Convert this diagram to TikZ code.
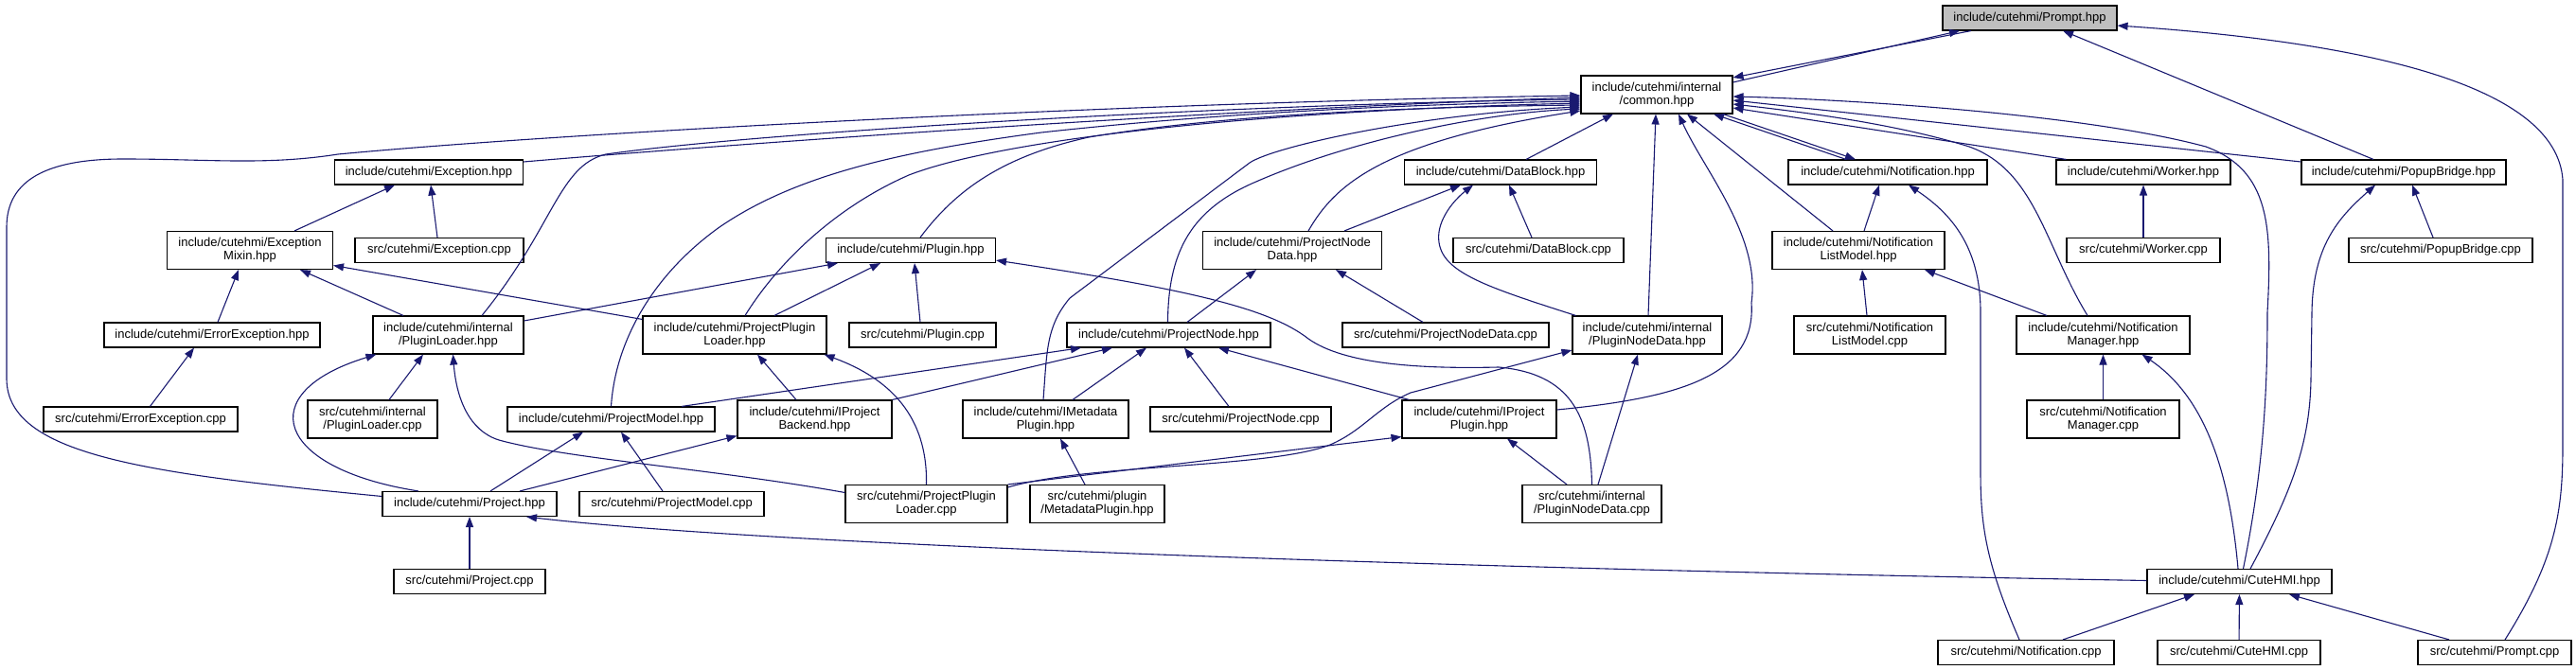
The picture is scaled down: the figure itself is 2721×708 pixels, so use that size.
\documentclass[tikz,border=0pt]{standalone}
\usepackage{fontspec}
\setmainfont{Liberation Sans}
\usetikzlibrary{arrows.meta,calc}
\definecolor{edgeblue}{HTML}{191970}
\definecolor{promptgray}{HTML}{BFBFBF}
\begin{document}
\begin{tikzpicture}[x=1pt,y=-1pt,
  box/.style={draw=black, line width=1.1pt, fill=white, inner sep=0pt, align=center,
              font=\fontsize{13}{14}\selectfont},
  s/.style={box, minimum height=26pt},
  d/.style={box, minimum height=40pt},
  e/.style={draw=edgeblue, line width=1.1pt, -{Triangle[length=11pt,width=8pt,fill=edgeblue]}}]
\useasboundingbox (0,0) rectangle (2721,708);
\fill[white] (0,0) rectangle (2721,708);
% nodes
\node[s, minimum width=184pt, fill=promptgray] (prompth) at (2144,19) {include/cutehmi/Prompt.hpp};
\node[d, minimum width=160pt] (common) at (1750,100) {include/cutehmi/internal\\/common.hpp};
\node[s, minimum width=199pt] (exch) at (453,182) {include/cutehmi/Exception.hpp};
\node[s, minimum width=203pt] (dbh) at (1585,182) {include/cutehmi/DataBlock.hpp};
\node[s, minimum width=210pt] (notifh) at (1994,182) {include/cutehmi/Notification.hpp};
\node[s, minimum width=184pt] (workerh) at (2264,182) {include/cutehmi/Worker.hpp};
\node[s, minimum width=216pt] (popuph) at (2539,182) {include/cutehmi/PopupBridge.hpp};
\node[d, minimum width=175pt] (mixin) at (264,264.5) {include/cutehmi/Exception\\Mixin.hpp};
\node[s, minimum width=178pt] (exccpp) at (464,264.5) {src/cutehmi/Exception.cpp};
\node[s, minimum width=179pt] (pluginh) at (962,264.5) {include/cutehmi/Plugin.hpp};
\node[d, minimum width=189pt] (pndh) at (1365,264.5) {include/cutehmi/ProjectNode\\Data.hpp};
\node[s, minimum width=180pt] (dbcpp) at (1625,264.5) {src/cutehmi/DataBlock.cpp};
\node[d, minimum width=182pt] (nlmh) at (1963,264.5) {include/cutehmi/Notification\\ListModel.hpp};
\node[s, minimum width=162pt] (workercpp) at (2264,264.5) {src/cutehmi/Worker.cpp};
\node[s, minimum width=194pt] (popupcpp) at (2578,264.5) {src/cutehmi/PopupBridge.cpp};
\node[s, minimum width=228pt] (errh) at (224,354) {include/cutehmi/ErrorException.hpp};
\node[d, minimum width=159pt] (ploaderh) at (473.5,354) {include/cutehmi/internal\\/PluginLoader.hpp};
\node[d, minimum width=194pt] (pploaderh) at (776,354) {include/cutehmi/ProjectPlugin\\Loader.hpp};
\node[s, minimum width=155pt] (plugincpp) at (974.5,354) {src/cutehmi/Plugin.cpp};
\node[s, minimum width=215pt] (pnodeh) at (1234.5,354) {include/cutehmi/ProjectNode.hpp};
\node[s, minimum width=218pt] (pndcpp) at (1527,354) {src/cutehmi/ProjectNodeData.cpp};
\node[d, minimum width=158pt] (plndh) at (1740,354) {include/cutehmi/internal\\/PluginNodeData.hpp};
\node[d, minimum width=160pt] (nlmcpp) at (1975,354) {src/cutehmi/Notification\\ListModel.cpp};
\node[d, minimum width=183pt] (nmgrh) at (2221.5,354) {include/cutehmi/Notification\\Manager.hpp};
\node[s, minimum width=205pt] (errcpp) at (148.5,443) {src/cutehmi/ErrorException.cpp};
\node[d, minimum width=137pt] (ploadercpp) at (393.5,443) {src/cutehmi/internal\\/PluginLoader.cpp};
\node[s, minimum width=219pt] (pmodelh) at (645.5,443) {include/cutehmi/ProjectModel.hpp};
\node[d, minimum width=163pt] (ipbh) at (860.5,443) {include/cutehmi/IProject\\Backend.hpp};
\node[d, minimum width=175pt] (imetah) at (1104.5,443) {include/cutehmi/IMetadata\\Plugin.hpp};
\node[s, minimum width=191pt] (pnodecpp) at (1310.5,443) {src/cutehmi/ProjectNode.cpp};
\node[d, minimum width=163pt] (ipph) at (1562.5,443) {include/cutehmi/IProject\\Plugin.hpp};
\node[d, minimum width=161pt] (nmgrcpp) at (2221.5,443) {src/cutehmi/Notification\\Manager.cpp};
\node[s, minimum width=184pt] (projecth) at (496,532.5) {include/cutehmi/Project.hpp};
\node[s, minimum width=195pt] (pmodelcpp) at (709.5,532.5) {src/cutehmi/ProjectModel.cpp};
\node[d, minimum width=171pt] (pploadercpp) at (978.5,532.5) {src/cutehmi/ProjectPlugin\\Loader.cpp};
\node[d, minimum width=142pt] (metah) at (1159,532.5) {src/cutehmi/plugin\\/MetadataPlugin.hpp};
\node[d, minimum width=147pt] (plndcpp) at (1681.5,532.5) {src/cutehmi/internal\\/PluginNodeData.cpp};
\node[s, minimum width=160pt] (projectcpp) at (496,614.5) {src/cutehmi/Project.cpp};
\node[s, minimum width=195pt] (cutehmih) at (2365.5,614.5) {include/cutehmi/CuteHMI.hpp};
\node[s, minimum width=186pt] (notifcpp) at (2140,689.5) {src/cutehmi/Notification.cpp};
\node[s, minimum width=172pt] (cutehmicpp) at (2365,689.5) {src/cutehmi/CuteHMI.cpp};
\node[s, minimum width=162pt] (promptcpp) at (2635,689.5) {src/cutehmi/Prompt.cpp};
% edges around Prompt.hpp
\draw[e] ($(common.east)+(0,-13)$) -- ($(prompth.south)+(-74,0)$);
\draw[e] ($(prompth.south)+(-62,0)$) -- ($(common.east)+(0,-18)$);
\draw[e] ($(popuph.north)+(-32,0)$) -- ($(prompth.south)+(35,0)$);
\draw[e] ($(promptcpp.north)+(11,0)$) .. controls (2700,590) and (2707,540) .. (2707,470) -- (2707,190) .. controls (2700,90) and (2500,45) .. ($(prompth.east)+(0,8)$);
% edges into common.hpp from the left
\draw[e] ($(exch.east)+(0,-11)$) .. controls (800,150) and (1300,115) .. ($(common.west)+(0,3)$);
\draw[e] ($(projecth.west)+(0,-8)$) .. controls (150,500) and (7,480) .. (7,400) -- (7,240) .. controls (7,190) and (50,168) .. (130,168) .. controls (220,168) and (280,175) .. (357,163) .. controls (600,140) and (1200,108) .. ($(common.west)+(0,1)$);
\draw[e] ($(ploaderh.north)+(35.5,0)$) .. controls (585,240) and (590,175) .. (640,163) .. controls (800,140) and (1300,110) .. ($(common.west)+(0,5)$);
\draw[e] (pmodelh.north) .. controls (650,360) and (690,290) .. (760,240) .. controls (840,185) and (950,160) .. (1100,140) .. controls (1300,118) and (1500,110) .. ($(common.west)+(0,7)$);
\draw[e] ($(pploaderh.north)+(11,0)$) .. controls (820,280) and (880,220) .. (960,185) .. controls (1050,150) and (1300,118) .. ($(common.west)+(0,9)$);
\draw[e] ($(pluginh.north)+(10,0)$) .. controls (1010,200) and (1060,165) .. (1150,145) .. controls (1300,120) and (1500,113) .. ($(common.west)+(0,11)$);
\draw[e] ($(imetah.north)+(-2.5,0)$) .. controls (1106,370) and (1105,345) .. (1130,315) -- (1320,172) .. controls (1345,155) and (1500,120) .. ($(common.west)+(0,13)$);
\draw[e] ($(pnodeh.north)+(-1,0)$) .. controls (1234,270) and (1255,225) .. (1320,195) .. controls (1420,150) and (1560,120) .. ($(common.west)+(0,15)$);
\draw[e] ($(pndh.north)+(17,0)$) .. controls (1410,195) and (1460,150) .. ($(common.west)+(0,17)$);
% edges into common.hpp from below
\draw[e] ($(dbh.north)+(27,0)$) -- ($(common.south)+(-46,0)$);
\draw[e] ($(plndh.north)+(1,0)$) -- ($(common.south)+(-1,0)$);
\draw[e] ($(ipph.east)+(0,-10)$) .. controls (1780,420) and (1855,395) .. (1850,320) .. controls (1860,250) and (1800,180) .. ($(common.south)+(23,0)$);
\draw[e] ($(nlmh.north)+(-27,0)$) -- ($(common.south)+(32,0)$);
\draw[e] ($(notifh.north)+(-44,0)$) -- ($(common.south)+(60,0)$);
\draw[e] ($(common.south)+(70,0)$) -- ($(notifh.north)+(-34,0)$);
% edges into common.hpp from the right
\draw[e] ($(workerh.north west)+(11,0)$) -- ($(common.east)+(0,14)$);
\draw[e] ($(popuph.west)+(0,-11)$) -- ($(common.east)+(0,6)$);
\draw[e] ($(nmgrh.north)+(-16.5,0)$) .. controls (2160,260) and (2150,180) .. (2080,155) .. controls (2000,130) and (1900,118) .. ($(common.east)+(0,10)$);
\draw[e] ($(cutehmih.north)+(4,0)$) .. controls (2390,500) and (2395,420) .. (2395,330) .. controls (2400,240) and (2398,180) .. (2330,155) .. controls (2200,120) and (1950,105) .. ($(common.east)+(0,2)$);
% Exception family
\draw[e] ($(mixin.north)+(47,0)$) -- ($(exch.south)+(-36,0)$);
\draw[e] ($(exccpp.north)+(-2,0)$) -- ($(exch.south)+(2,0)$);
\draw[e] ($(errh.north)+(6,0)$) -- ($(mixin.south)+(-12,0)$);
\draw[e] ($(ploaderh.north)+(-47.5,0)$) -- ($(mixin.south)+(53,0)$);
\draw[e] ($(pploaderh.north west)+(0,4)$) -- ($(mixin.east)+(0,16)$);
\draw[e] ($(errcpp.north)+(10,0)$) -- ($(errh.south)+(-19,0)$);
% Plugin.hpp
\draw[e] ($(ploaderh.east)+(0,-15)$) -- ($(pluginh.south)+(-77,0)$);
\draw[e] ($(pploaderh.north)+(42,0)$) -- ($(pluginh.south)+(-32,0)$);
\draw[e] ($(plugincpp.north)+(-2.5,0)$) -- ($(pluginh.south)+(4,0)$);
\draw[e] (plndcpp.north) .. controls (1680,440) and (1660,395) .. (1583,388) .. controls (1500,390) and (1420,385) .. (1382,358) .. controls (1340,325) and (1250,305) .. ($(pluginh.south east)+(0,-3)$);
% PluginLoader.hpp
\draw[e] ($(ploadercpp.north)+(17.5,0)$) -- ($(ploaderh.south)+(-26.5,0)$);
\draw[e] ($(projecth.north)+(-54,0)$) .. controls (290,495) and (265,415) .. ($(ploaderh.south west)+(4,0)$);
\draw[e] ($(pploadercpp.west)+(0,-12)$) .. controls (750,495) and (600,485) .. (527,465) .. controls (495,455) and (482,420) .. ($(ploaderh.south)+(5,0)$);
% ProjectPluginLoader.hpp
\draw[e] ($(ipbh.north)+(-19.5,0)$) -- ($(pploaderh.south)+(24,0)$);
\draw[e] (pploadercpp.north) .. controls (980,440) and (940,400) .. ($(pploaderh.south east)+(-3,0)$);
% DataBlock.hpp
\draw[e] ($(pndh.north)+(55,0)$) -- ($(dbh.south)+(-42,0)$);
\draw[e] ($(plndh.north west)+(4,0)$) .. controls (1560,300) and (1515,285) .. (1520,245) .. controls (1523,225) and (1540,208) .. ($(dbh.south)+(-29,0)$);
\draw[e] ($(dbcpp.north)+(-7,0)$) -- ($(dbh.south)+(9,0)$);
% ProjectNodeData.hpp
\draw[e] ($(pnodeh.north)+(19.5,0)$) -- ($(pndh.south)+(-38,0)$);
\draw[e] ($(pndcpp.north)+(-24,0)$) -- ($(pndh.south)+(46,0)$);
% ProjectNode.hpp
\draw[e] ($(pmodelh.north)+(74.5,0)$) -- ($(pnodeh.south)+(-92.5,0)$);
\draw[e] (ipbh.north east) -- ($(pnodeh.south)+(-59.5,0)$);
\draw[e] ($(imetah.north)+(28.5,0)$) -- ($(pnodeh.south)+(-23.5,0)$);
\draw[e] ($(pnodecpp.north)+(-12.5,0)$) -- ($(pnodeh.south)+(16.5,0)$);
\draw[e] ($(ipph.north west)+(8,0)$) -- ($(pnodeh.south)+(52.5,0)$);
% ProjectModel.hpp, Project.hpp, IProjectBackend.hpp
\draw[e] ($(projecth.north)+(22,0)$) -- ($(pmodelh.south)+(-29.5,0)$);
\draw[e] ($(pmodelcpp.north)+(-9.5,0)$) -- ($(pmodelh.south)+(10.5,0)$);
\draw[e] ($(projecth.north)+(53,0)$) -- ($(ipbh.south west)+(0,-3)$);
\draw[e] (projectcpp) -- (projecth);
\draw[e] ($(cutehmih.west)+(0,-1)$) .. controls (1500,600) and (800,575) .. ($(projecth.south)+(60,0)$);
% IMetadataPlugin, IProjectPlugin, PluginNodeData
\draw[e] ($(metah.north)+(-13,0)$) -- ($(imetah.south)+(15.5,0)$);
\draw[e] (pploadercpp.north east) -- ($(ipph.south west)+(0,-2)$);
\draw[e] ($(pploadercpp.north east)+(0,3)$) .. controls (1150,490) and (1340,495) .. (1405,470) .. controls (1440,455) and (1455,430) .. (1490,415) -- ($(plndh.west)+(0,16)$);
\draw[e] ($(plndcpp.north)+(-26.5,0)$) -- ($(ipph.south)+(29.5,0)$);
\draw[e] ($(plndcpp.north)+(6.5,0)$) -- ($(plndh.south)+(-10,0)$);
% Notification family
\draw[e] ($(nlmh.north)+(6,0)$) -- ($(notifh.south)+(-9,0)$);
\draw[e] ($(notifcpp.north)+(-7,0)$) .. controls (2100,600) and (2092,560) .. (2092,500) -- (2092,330) .. controls (2092,260) and (2060,225) .. ($(notifh.south)+(22,0)$);
\draw[e] ($(nlmcpp.north)+(-3,0)$) -- ($(nlmh.south)+(4,0)$);
\draw[e] ($(nmgrh.north)+(-59.5,0)$) -- ($(nlmh.south)+(70,0)$);
\draw[e] (nmgrcpp) -- (nmgrh);
\draw[e] ($(cutehmih.north)+(-1.5,0)$) .. controls (2355,500) and (2330,420) .. ($(nmgrh.south)+(41,0)$);
% Worker, PopupBridge
\draw[e] (workercpp) -- (workerh);
\draw[e] ($(popupcpp.north)+(-8,0)$) -- ($(popuph.south)+(9,0)$);
\draw[e] ($(cutehmih.north)+(11.5,0)$) .. controls (2420,520) and (2440,470) .. (2441,400) -- (2442,330) .. controls (2443,260) and (2470,230) .. ($(popuph.south)+(-30,0)$);
% CuteHMI.hpp
\draw[e] ($(notifcpp.north)+(39,0)$) -- ($(cutehmih.south)+(-47.5,0)$);
\draw[e] (cutehmicpp) -- (cutehmih);
\draw[e] ($(promptcpp.north)+(-48,0)$) -- ($(cutehmih.south)+(52.5,0)$);
\end{tikzpicture}
\end{document}
